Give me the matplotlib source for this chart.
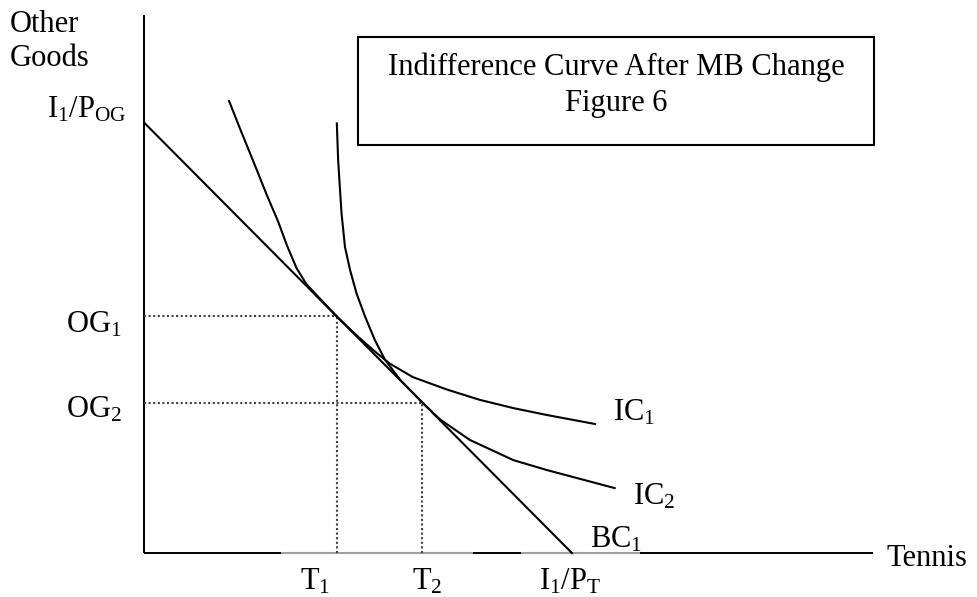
import matplotlib.pyplot as plt
from matplotlib.patches import Rectangle

plt.rcParams['font.family'] = ['Liberation Serif', 'DejaVu Serif']
plt.rcParams['mathtext.fontset'] = 'custom'
plt.rcParams['mathtext.rm'] = 'Liberation Serif'
plt.rcParams['mathtext.it'] = 'Liberation Serif:italic'

# budget line intercepts (tennis, other goods)
budget_x = [0, 10]
budget_y = [10, 0]

# indifference curves
ic1_x = [1.98, 2.23, 2.55, 2.86, 3.13, 3.33, 3.56, 3.79, 4.11, 4.50, 4.92, 5.35,
         5.73, 6.28, 7.08, 7.85, 8.63, 9.41, 10.54]
ic1_y = [10.51, 9.88, 9.10, 8.33, 7.70, 7.16, 6.62, 6.25, 5.91, 5.50, 5.10, 4.72,
         4.41, 4.09, 3.80, 3.56, 3.37, 3.21, 3.00]
ic2_x = [4.50, 4.53, 4.56, 4.61, 4.69, 4.81, 4.96, 5.16, 5.39, 5.63, 5.98, 6.50,
         6.91, 7.61, 8.63, 9.41, 11.00]
ic2_y = [9.99, 9.15, 8.67, 7.90, 7.12, 6.58, 6.04, 5.50, 4.95, 4.49, 4.03, 3.50,
         3.11, 2.63, 2.16, 1.93, 1.51]

# optimal bundles
t_vals = [4.5, 6.5]
og_vals = [5.5, 3.5]

FS = 22

fig = plt.figure(figsize=(9.78, 5.97), dpi=100)
ax = fig.add_axes([0, 0, 1, 1])
ax.set_xlim(-3.38, 19.50)
ax.set_ylim(-1.023, 12.86)
ax.axis('off')

# axes
ax.plot([0, 17.04], [0, 0], color='black', lw=1.4, solid_capstyle='butt')
ax.plot([0, 0], [0, 12.51], color='black', lw=1.4, solid_capstyle='butt')
for a, b in [(3.19, 7.68), (8.81, 11.59)]:
    ax.plot([a, b], [0, 0], color='#a0a0a0', lw=1.5, solid_capstyle='butt')

# dotted guides
for t, og in zip(t_vals, og_vals):
    ax.plot([0, t], [og, og], color='#404040', lw=1.5, ls=(0, (1, 1.2)))
    ax.plot([t, t], [0, og], color='#404040', lw=1.5, ls=(0, (1, 1.2)))

ax.plot(budget_x, budget_y, color='black', lw=1.5)
ax.plot(ic1_x, ic1_y, color='black', lw=1.5)
ax.plot(ic2_x, ic2_y, color='black', lw=1.5)

# title box
ax.add_patch(Rectangle((5.0, 9.49), 12.06, 2.51, fill=False, lw=1.5, ec='black'))
ax.text(11.03, 11.12, 'Indifference Curve After MB Change', fontsize=FS,
        ha='center', va='baseline')
ax.text(11.03, 10.28, 'Figure 6', fontsize=FS, ha='center', va='baseline')

# labels
ax.text(-3.15, 12.12, 'Other', fontsize=FS, va='baseline')
ax.text(-3.15, 11.33, 'Goods', fontsize=FS, va='baseline')
ax.text(-0.41, 10.12, r'I$_1$/P$_{\mathrm{OG}}$', fontsize=FS, ha='right', va='baseline')
ax.text(-0.53, 5.12, r'OG$_1$', fontsize=FS, ha='right', va='baseline')
ax.text(-0.53, 3.14, r'OG$_2$', fontsize=FS, ha='right', va='baseline')
ax.text(3.99, -0.86, r'T$_1$', fontsize=FS, ha='center', va='baseline')
ax.text(6.61, -0.86, r'T$_2$', fontsize=FS, ha='center', va='baseline')
ax.text(9.95, -0.86, r'I$_1$/P$_{\mathrm{T}}$', fontsize=FS, ha='center', va='baseline')
ax.text(10.42, 0.12, r'BC$_1$', fontsize=FS, va='baseline')
ax.text(17.37, -0.30, 'Tennis', fontsize=FS, va='baseline')
ax.text(10.96, 3.09, r'IC$_1$', fontsize=FS, va='baseline')
ax.text(11.43, 1.12, r'IC$_2$', fontsize=FS, va='baseline')

fig.savefig('out.png', dpi=100)
